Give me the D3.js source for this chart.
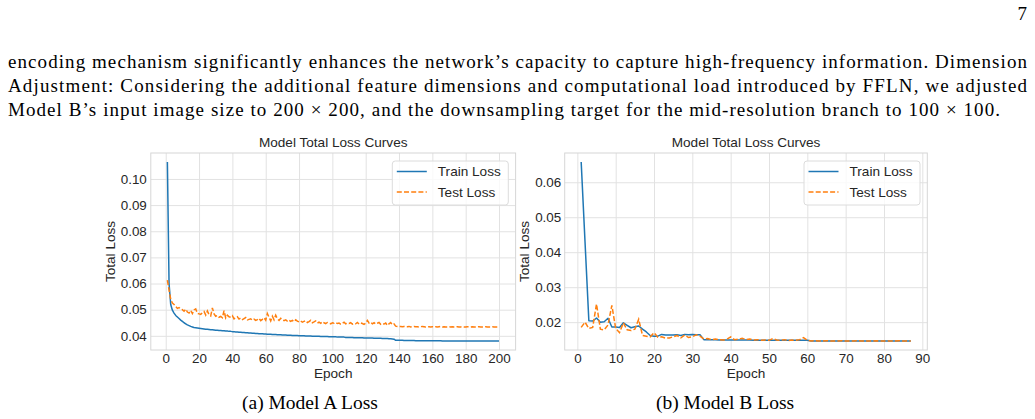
<!DOCTYPE html>
<html>
<head>
<meta charset="utf-8">
<script src="https://cdn.jsdelivr.net/npm/d3@7"></script>
<style>
  body { margin: 0; background: #fff; }
  .tick text { font-family: "Liberation Sans", Arial, sans-serif; font-size: 13.4px; fill: #262626; }
  .sans { font-family: "Liberation Sans", Arial, sans-serif; fill: #262626; }
  .serif { font-family: "Liberation Serif", "Times New Roman", serif; fill: #000; }
</style>
</head>
<body>
<svg id="page" width="1035" height="419"></svg>
<script>
// values
const trainA = [
    0.1065,0.0600,0.0520,0.0498,0.0487,0.0478,0.0472,0.0466,0.0460,0.0455,
    0.0450,0.0446,0.0442,0.0439,0.0436,0.0434,0.0432,0.0431,0.0430,0.0429,
    0.0428,0.0427,0.0426,0.0425,0.0425,0.0424,0.0423,0.0423,0.0422,0.0421,
    0.0421,0.0420,0.0420,0.0419,0.0419,0.0418,0.0418,0.0417,0.0417,0.0416,
    0.0416,0.0415,0.0415,0.0414,0.0414,0.0413,0.0413,0.0412,0.0412,0.0411,
    0.0411,0.0410,0.0410,0.0409,0.0409,0.0408,0.0408,0.0408,0.0407,0.0407,
    0.0406,0.0406,0.0406,0.0405,0.0405,0.0405,0.0404,0.0404,0.0404,0.0403,
    0.0403,0.0403,0.0402,0.0402,0.0402,0.0401,0.0401,0.0401,0.0401,0.0400,
    0.0400,0.0400,0.0400,0.0399,0.0399,0.0399,0.0399,0.0398,0.0398,0.0398,
    0.0398,0.0398,0.0397,0.0397,0.0397,0.0397,0.0397,0.0396,0.0396,0.0396,
    0.0396,0.0396,0.0395,0.0395,0.0395,0.0395,0.0395,0.0394,0.0394,0.0394,
    0.0394,0.0394,0.0393,0.0393,0.0393,0.0393,0.0393,0.0393,0.0392,0.0392,
    0.0392,0.0392,0.0392,0.0392,0.0391,0.0391,0.0391,0.0391,0.0391,0.0390,
    0.0390,0.0390,0.0390,0.0389,0.0389,0.0388,0.0387,0.0383,0.0383,0.0383,
    0.0383,0.0383,0.0382,0.0382,0.0382,0.0382,0.0382,0.0382,0.0382,0.0381,
    0.0381,0.0381,0.0381,0.0381,0.0381,0.0381,0.0381,0.0381,0.0381,0.0381,
    0.0381,0.0381,0.0381,0.0381,0.0381,0.0380,0.0380,0.0380,0.0380,0.0380,
    0.0380,0.0380,0.0380,0.0380,0.0380,0.0380,0.0380,0.0380,0.0380,0.0380,
    0.0380,0.0380,0.0380,0.0380,0.0380,0.0380,0.0380,0.0380,0.0380,0.0380,
    0.0380,0.0380,0.0380,0.0380,0.0380,0.0380,0.0380,0.0380,0.0380,0.0380,
];

const testA = [
    0.0613,0.0575,0.0540,0.0525,0.0520,0.0512,0.0505,0.0508,0.0503,0.0500,
    0.0494,0.0502,0.0491,0.0487,0.0497,0.0485,0.0499,0.0503,0.0486,0.0484,
    0.0482,0.0488,0.0493,0.0479,0.0495,0.0481,0.0476,0.0507,0.0484,0.0475,
    0.0478,0.0471,0.0474,0.0469,0.0496,0.0468,0.0479,0.0473,0.0471,0.0477,
    0.0465,0.0469,0.0473,0.0464,0.0468,0.0462,0.0466,0.0470,0.0461,0.0463,
    0.0465,0.0460,0.0464,0.0459,0.0462,0.0467,0.0458,0.0463,0.0469,0.0460,
    0.0485,0.0471,0.0457,0.0475,0.0461,0.0479,0.0465,0.0459,0.0467,0.0462,
    0.0458,0.0461,0.0456,0.0460,0.0455,0.0459,0.0454,0.0461,0.0456,0.0453,
    0.0457,0.0452,0.0455,0.0458,0.0451,0.0454,0.0459,0.0450,0.0453,0.0457,
    0.0449,0.0452,0.0448,0.0454,0.0450,0.0447,0.0451,0.0449,0.0446,0.0450,
    0.0448,0.0451,0.0447,0.0449,0.0445,0.0448,0.0452,0.0446,0.0449,0.0447,
    0.0450,0.0445,0.0448,0.0446,0.0451,0.0445,0.0449,0.0447,0.0444,0.0448,
    0.0459,0.0449,0.0452,0.0446,0.0450,0.0445,0.0448,0.0451,0.0444,0.0447,
    0.0445,0.0449,0.0440,0.0446,0.0451,0.0442,0.0445,0.0437,0.0436,0.0435,
    0.0436,0.0435,0.0436,0.0435,0.0435,0.0436,0.0434,0.0435,0.0436,0.0435,
    0.0435,0.0434,0.0435,0.0436,0.0435,0.0434,0.0435,0.0435,0.0434,0.0435,
    0.0434,0.0435,0.0434,0.0435,0.0436,0.0434,0.0435,0.0434,0.0434,0.0435,
    0.0434,0.0435,0.0434,0.0434,0.0435,0.0434,0.0434,0.0435,0.0434,0.0434,
    0.0435,0.0434,0.0434,0.0435,0.0434,0.0434,0.0434,0.0435,0.0434,0.0434,
    0.0434,0.0435,0.0434,0.0434,0.0434,0.0435,0.0434,0.0434,0.0434,0.0434,
];

const trainB = [
    0.0658,0.0430,0.0204,0.0203,0.0212,0.0200,0.0201,0.0211,0.0186,0.0186,
    0.0185,0.0198,0.0191,0.0184,0.0187,0.0189,0.0180,0.0172,0.0162,0.0160,
    0.0160,0.0165,0.0163,0.0163,0.0163,0.0164,0.0162,0.0165,0.0164,0.0165,
    0.0164,0.0164,0.0150,0.0150,0.0150,0.0150,0.0149,0.0149,0.0149,0.0149,
    0.0149,0.0149,0.0149,0.0149,0.0149,0.0148,0.0148,0.0148,0.0148,0.0148,
    0.0148,0.0148,0.0148,0.0148,0.0148,0.0148,0.0148,0.0148,0.0148,0.0148,
    0.0146,0.0146,0.0146,0.0146,0.0146,0.0146,0.0146,0.0146,0.0146,0.0146,
    0.0146,0.0146,0.0146,0.0146,0.0146,0.0146,0.0146,0.0146,0.0146,0.0146,
    0.0146,0.0146,0.0146,0.0146,0.0146,0.0146,0.0146,
];

const testB = [
    0.0185,0.0200,0.0182,0.0185,0.0252,0.0180,0.0178,0.0192,0.0248,0.0182,
    0.0170,0.0198,0.0178,0.0176,0.0180,0.0208,0.0162,0.0160,0.0158,0.0170,
    0.0157,0.0158,0.0154,0.0155,0.0158,0.0162,0.0155,0.0163,0.0156,0.0158,
    0.0164,0.0160,0.0152,0.0153,0.0150,0.0152,0.0150,0.0149,0.0151,0.0158,
    0.0150,0.0151,0.0154,0.0150,0.0152,0.0149,0.0150,0.0148,0.0149,0.0148,
    0.0153,0.0149,0.0148,0.0150,0.0147,0.0149,0.0148,0.0150,0.0156,0.0148,
    0.0146,0.0147,0.0146,0.0146,0.0147,0.0146,0.0146,0.0146,0.0147,0.0146,
    0.0146,0.0146,0.0147,0.0146,0.0146,0.0146,0.0146,0.0147,0.0146,0.0146,
    0.0146,0.0146,0.0146,0.0147,0.0146,0.0146,0.0146,
];

const xTicksA = [0, 20, 40, 60, 80, 100, 120, 140, 160, 180, 200];
const yTicksA = [0.04, 0.05, 0.06, 0.07, 0.08, 0.09, 0.10];
const xTicksB = [0, 10, 20, 30, 40, 50, 60, 70, 80, 90];
const yTicksB = [0.02, 0.03, 0.04, 0.05, 0.06];

const seriesNames = ['Train Loss', 'Test Loss'];
const chartTitle = 'Model Total Loss Curves';
const captions = ['(a) Model A Loss', '(b) Model B Loss'];

const bodyLines = [
    'encoding mechanism significantly enhances the network\u2019s capacity to capture high-frequency information. Dimension',
    'Adjustment: Considering the additional feature dimensions and computational load introduced by FFLN, we adjusted',
    'Model B\u2019s input image size to 200 \u00d7 200, and the downsampling target for the mid-resolution branch to 100 \u00d7 100.',
];

const colors = { train: '#1f77b4', test: '#ff7f0e', grid: '#e2e2e2', spine: '#d6d6d6' };

let svg = d3.select('#page');

function drawPage() {
    svg.append('rect').attr('width', 1035).attr('height', 419).attr('fill', '#fff');

    svg.append('text').attr('class', 'serif')
        .attr('x', 1027).attr('y', 20).attr('text-anchor', 'end')
        .style('font-size', '19px').text('7');

    let lineEnds = [1027, 1027, 1000];
    bodyLines.forEach((t, i) => {
        svg.append('text').attr('class', 'serif')
            .attr('x', 8).attr('y', 68 + i * 24)
            .attr('textLength', lineEnds[i] - 8)
            .attr('lengthAdjust', 'spacing')
            .style('font-size', '19px')
            .text(t);
    });
}

function drawChart(box, train, test, xTicks, yTicks, xFmt, caption) {
    let w = box.right - box.left;
    let h = box.bottom - box.top;
    let n = train.length;

    // matplotlib style 5% margins around the data
    let xPad = (n - 1) * 0.05;
    let all = train.concat(test);
    let yMin = d3.min(all), yMax = d3.max(all);
    let yPad = (yMax - yMin) * 0.05;

    let x = d3.scaleLinear().domain([1 - xPad, n + xPad]).range([0, w]);
    let y = d3.scaleLinear().domain([yMin - yPad, yMax + yPad]).range([h, 0]);

    let g = svg.append('g').attr('transform', `translate(${box.left},${box.top})`);

    let xAxis = g.append('g').attr('transform', `translate(0,${h})`)
        .call(d3.axisBottom(x).tickValues(xTicks).tickFormat(xFmt)
            .tickSizeInner(-h).tickSizeOuter(0).tickPadding(3));
    let yAxis = g.append('g')
        .call(d3.axisLeft(y).tickValues(yTicks).tickFormat(d3.format('.2f'))
            .tickSizeInner(-w).tickSizeOuter(0).tickPadding(box.yPad));
    for (let ax of [xAxis, yAxis]) {
        ax.select('.domain').remove();
        ax.selectAll('.tick line').attr('stroke', colors.grid).attr('stroke-width', 1);
    }

    g.append('rect').attr('width', w).attr('height', h)
        .attr('fill', 'none').attr('stroke', colors.spine).attr('stroke-width', 1);

    let line = d3.line().x((d, i) => x(i + 1)).y(d => y(d));

    g.append('path').datum(train).attr('d', line)
        .attr('fill', 'none').attr('stroke', colors.train).attr('stroke-width', 1.5)
        .attr('stroke-linejoin', 'round');
    g.append('path').datum(test).attr('d', line)
        .attr('fill', 'none').attr('stroke', colors.test).attr('stroke-width', 1.5)
        .attr('stroke-dasharray', '5,2.2');

    // title and axis labels
    g.append('text').attr('class', 'sans')
        .attr('x', w / 2).attr('y', -6).attr('text-anchor', 'middle')
        .style('font-size', '13.6px').text(chartTitle);
    g.append('text').attr('class', 'sans')
        .attr('x', w / 2).attr('y', h + 28).attr('text-anchor', 'middle')
        .style('font-size', '13.6px').text('Epoch');
    g.append('text').attr('class', 'sans')
        .attr('transform', `translate(${-36},${h / 2}) rotate(-90)`)
        .attr('text-anchor', 'middle')
        .style('font-size', '13.6px').text('Total Loss');

    // legend, upper right
    let lw = 116, lh = 44;
    let lg = g.append('g').attr('transform', `translate(${w - 7.3 - lw},8)`);
    lg.append('rect').attr('width', lw).attr('height', lh).attr('rx', 3)
        .attr('fill', '#fff').attr('fill-opacity', 0.8)
        .attr('stroke', '#dcdcdc').attr('stroke-width', 1);
    seriesNames.forEach((name, i) => {
        let yy = 10.5 + i * 20.5;
        lg.append('line').attr('x1', 4.5).attr('x2', 34.5).attr('y1', yy).attr('y2', yy)
            .attr('stroke', i == 0 ? colors.train : colors.test).attr('stroke-width', 1.5)
            .attr('stroke-dasharray', i == 0 ? null : '5,2.2');
        lg.append('text').attr('class', 'sans')
            .attr('x', 45.5).attr('y', yy).attr('dy', '0.35em')
            .style('font-size', '13.6px').text(name);
    });

    svg.append('text').attr('class', 'serif')
        .attr('x', box.capX).attr('y', 409).attr('text-anchor', 'middle')
        .style('font-size', '19.5px').text(caption);
}

drawPage();
drawChart({left: 150.8, right: 515.6, top: 153, bottom: 350, yPad: 4, capX: 310},
    trainA, testA, xTicksA, yTicksA, d3.format('d'), captions[0]);
drawChart({left: 564.7, right: 927.3, top: 153, bottom: 350, yPad: 3.5, capX: 725},
    trainB, testB, xTicksB, yTicksB, d3.format('d'), captions[1]);
</script>
</body>
</html>
